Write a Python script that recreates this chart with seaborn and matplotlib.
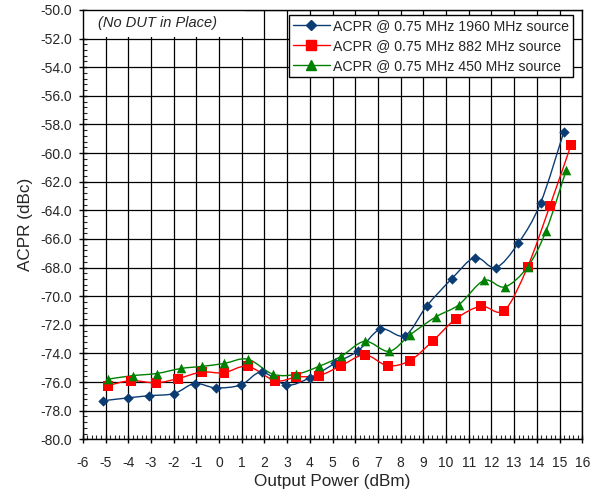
import matplotlib
matplotlib.use("Agg")
import matplotlib.pyplot as plt
from matplotlib.lines import Line2D
from matplotlib.path import Path
from matplotlib.patches import PathPatch, Rectangle
from matplotlib.ticker import MultipleLocator, FormatStrFormatter
import numpy as np
import pandas as pd
import seaborn as sns

# output power (dBm) and ACPR (dBc) for each source
x_1960 = [-5.1, -4.0, -3.08, -1.98, -1.08, -0.15, 0.96, 1.87, 2.97, 4.0, 5.1,
          6.13, 7.11, 8.19, 9.14, 10.24, 11.27, 12.19, 13.18, 14.16, 15.19]
acpr_1960 = [-77.3, -77.1, -76.95, -76.8, -76.1, -76.4, -76.2, -75.3, -76.2, -75.7, -74.7,
             -73.8, -72.3, -72.75, -70.7, -68.8, -67.3, -68.0, -66.3, -63.5, -58.5]

x_882 = [-4.91, -3.89, -2.78, -1.8, -0.77, 0.21, 1.26, 2.47, 3.41, 4.4, 5.38,
         6.42, 7.42, 8.41, 9.43, 10.42, 11.53, 12.56, 13.59, 14.57, 15.5]
acpr_882 = [-76.25, -75.9, -76.05, -75.75, -75.3, -75.35, -74.9, -75.9, -75.65, -75.55, -74.85,
            -74.1, -74.85, -74.5, -73.1, -71.6, -70.7, -71.0, -67.95, -63.7, -59.45]

x_450 = [-4.91, -3.81, -2.75, -1.68, -0.74, 0.22, 1.26, 2.38, 3.41, 4.4, 5.38,
         6.42, 7.49, 8.41, 9.54, 10.56, 11.67, 12.59, 13.59, 14.4, 15.3]
acpr_450 = [-75.8, -75.55, -75.4, -75.05, -74.9, -74.7, -74.4, -75.45, -75.45, -74.9, -74.2,
            -73.15, -73.85, -72.7, -71.45, -70.6, -68.9, -69.35, -67.95, -65.45, -61.15]

labels = ["ACPR @ 0.75 MHz 1960 MHz source",
          "ACPR @ 0.75 MHz 882 MHz source",
          "ACPR @ 0.75 MHz 450 MHz source"]
colors = ["#0B3C73", "#FF0000", "#008000"]
markers = ["D", "s", "^"]
marker_sizes = [28, 48, 48]


def smooth_path(xs, ys):
    # Catmull-Rom style Bezier through the points (like Excel "smoothed line")
    pts = np.column_stack([xs, ys])
    verts = [pts[0]]
    codes = [Path.MOVETO]
    n = len(pts)
    for i in range(n - 1):
        p0 = pts[i - 1] if i > 0 else pts[i]
        p1 = pts[i]
        p2 = pts[i + 1]
        p3 = pts[i + 2] if i + 2 < n else pts[i + 1]
        c1 = p1 + (p2 - p0) / 6.0
        c2 = p2 - (p3 - p1) / 6.0
        verts += [c1, c2, p2]
        codes += [Path.CURVE4] * 3
    return Path(verts, codes)


sns.set_style("ticks")
plt.rcParams["font.family"] = ["Liberation Sans", "DejaVu Sans"]
plt.rcParams["axes.unicode_minus"] = False

fig = plt.figure(figsize=(5.96, 4.97), dpi=100)
ax = fig.add_axes([0.139, 0.116, 0.838, 0.864])

series = [(x_1960, acpr_1960), (x_882, acpr_882), (x_450, acpr_450)]
for (xs, ys), label, color, marker, size in zip(series, labels, colors, markers, marker_sizes):
    df = pd.DataFrame({"power": xs, "acpr": ys})
    ax.add_patch(PathPatch(smooth_path(xs, ys), facecolor="none",
                           edgecolor=color, lw=1.0, zorder=3))
    sns.scatterplot(data=df, x="power", y="acpr", marker=marker, s=size,
                    color=color, edgecolor=color, linewidth=0, ax=ax, zorder=4)

ax.set_xlim(-6, 16)
ax.set_ylim(-80, -50)
ax.xaxis.set_major_locator(MultipleLocator(1))
ax.xaxis.set_minor_locator(MultipleLocator(0.2))
ax.yaxis.set_major_locator(MultipleLocator(2))
ax.yaxis.set_minor_locator(MultipleLocator(0.4))
ax.yaxis.set_major_formatter(FormatStrFormatter("%.1f"))
ax.grid(True, which="major", color="black", lw=0.9)
ax.set_axisbelow(True)

for side in ["left", "right", "top", "bottom"]:
    ax.spines[side].set_visible(True)
    ax.spines[side].set_color("black")
    ax.spines[side].set_linewidth(1.0)

ax.tick_params(axis="both", which="major", direction="inout", length=6,
               width=1, labelsize=10, color="black")
ax.tick_params(axis="both", which="minor", direction="in", length=3, width=0.8)
ax.tick_params(axis="y", which="major", pad=5)
ax.tick_params(axis="x", which="major", pad=9)

ax.set_xlabel("Output Power (dBm)", fontsize=12.3, labelpad=3)
ax.set_ylabel("ACPR (dBc)", fontsize=12.3, labelpad=5)

# white box behind the note, covering the grid
ax.add_patch(Rectangle((0, 0.938), 0.325, 0.062, transform=ax.transAxes,
                       facecolor="white", edgecolor="none", zorder=1))
ax.text(0.03, 0.969, "(No DUT in Place)", transform=ax.transAxes,
        fontsize=10.5, style="italic", va="center", ha="left", zorder=2)

handles = [Line2D([0], [0], color=c, lw=1.0, marker=m, markersize=5 if m == "D" else 7)
           for c, m in zip(colors, markers)]
leg = ax.legend(handles, labels, loc="upper right", bbox_to_anchor=(0.981, 0.988),
                fontsize=10.2, frameon=True, fancybox=False, edgecolor="black",
                framealpha=1, borderpad=0.3, labelspacing=0.4, handlelength=2.6,
                handletextpad=0.2, borderaxespad=0)
leg.get_frame().set_linewidth(1.0)

fig.savefig("out.png", dpi=100)
